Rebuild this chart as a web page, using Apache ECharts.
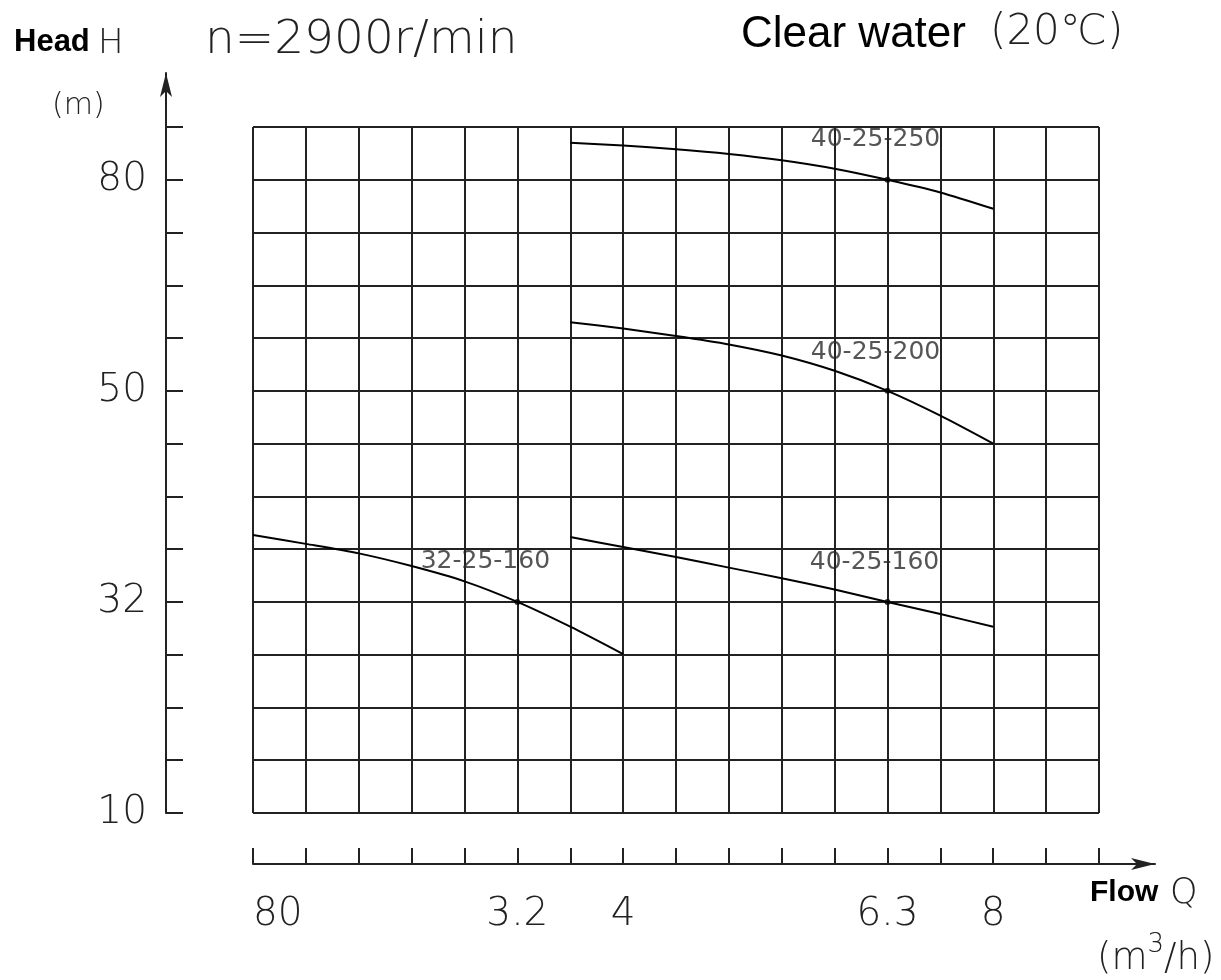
<!DOCTYPE html>
<html><head><meta charset="utf-8">
<script src="https://cdn.jsdelivr.net/npm/echarts@6/dist/echarts.min.js"></script>
<style>html,body{margin:0;padding:0;background:#fff}#c{width:1221px;height:980px}</style>
</head><body><div id="c"></div>
<script>
// ---- data (positions in grid units: columns along flow, rows along head) ----
const flowTickPos = [0, 5, 7, 12, 14];
const flowTickLabels = ['80', '3.2', '4', '6.3', '8'];
const headTickPos = [0, 4, 8, 12];
const headTickLabels = ['10', '32', '50', '80'];
const gridCols = 16;
const gridRows = 13;
const modelNames = ['32-25-160', '40-25-160', '40-25-200', '40-25-250'];
const flowPos_32_25_160 = [0, 1, 2, 3, 4, 5, 6, 7];
const head_32_25_160 = [5.27, 5.10, 4.92, 4.68, 4.39, 4.00, 3.53, 3.01];
const flowPos_40 = [6, 7, 8, 9, 10, 11, 12, 13, 14];
const head_40_25_160 = [5.23, 5.04, 4.85, 4.65, 4.45, 4.235, 4.00, 3.77, 3.53];
const head_40_25_200 = [9.30, 9.18, 9.04, 8.88, 8.67, 8.38, 8.00, 7.53, 7.00];
const head_40_25_250 = [12.70, 12.65, 12.58, 12.49, 12.37, 12.21, 12.00, 11.76, 11.45];
const dutyFlowPos = [5, 12, 12, 12];
const dutyHeadPos = [4, 4, 8, 12];

// ---- layout (pixels) ----
const GL = 253, GR = 1099, GT = 127, GB = 813;
const XAXIS_Y = 864, XARROW_END = 1155;
const YAXIS_X = 166, YARROW_END = 73;
const W = 1221, H = 980;
const labelOffsets = [[-32, -40], [-13, -39], [-12, -38], [-12, -40]];

const thin = 'DejaVu Sans';
const ink = '#222';
const xExtMax = gridCols * (XARROW_END - GL) / (GR - GL);
const yExtMax = gridRows * (GB - YARROW_END) / (GB - GT);
const range = n => Array.from({length: n + 1}, (_, i) => i);

const chart = echarts.init(document.getElementById('c'), null, {renderer: 'canvas'});

function curve(xs, ys) { return xs.map((x, i) => [x, ys[i]]); }
const curveData = [
  curve(flowPos_32_25_160, head_32_25_160),
  curve(flowPos_40, head_40_25_160),
  curve(flowPos_40, head_40_25_200),
  curve(flowPos_40, head_40_25_250)
];

const option = {
  backgroundColor: '#fff',
  animation: false,
  grid: [
    {left: GL, right: W - GR, top: GT, bottom: H - GB},
    {left: GL, right: W - XARROW_END, top: 700, bottom: H - XAXIS_Y},
    {left: YAXIS_X, width: 100, top: YARROW_END, bottom: H - GB}
  ],
  xAxis: [
    {gridIndex: 0, type: 'value', min: 0, max: gridCols, interval: 1,
     axisLine: {show: false}, axisTick: {show: false}, axisLabel: {show: false},
     splitLine: {show: true, lineStyle: {color: ink, width: 2}}},
    {gridIndex: 1, type: 'value', min: 0, max: xExtMax, position: 'bottom',
     axisLine: {show: true, symbol: ['none', 'arrow'], symbolSize: [9, 24], lineStyle: {color: ink, width: 2}},
     axisTick: {show: true, inside: true, length: 16, customValues: range(gridCols), lineStyle: {color: ink, width: 2}},
     axisLabel: {show: true, customValues: flowTickPos, margin: 31, alignMinLabel: 'left',
       formatter: v => flowTickLabels[flowTickPos.indexOf(Math.round(v))] || '',
       fontFamily: thin, fontWeight: 200, fontSize: 39, color: ink},
     splitLine: {show: false}},
    {gridIndex: 2, type: 'value', min: 0, max: 1, show: false}
  ],
  yAxis: [
    {gridIndex: 0, type: 'value', min: 0, max: gridRows, interval: 1,
     axisLine: {show: false}, axisTick: {show: false}, axisLabel: {show: false},
     splitLine: {show: true, lineStyle: {color: ink, width: 2}}},
    {gridIndex: 1, type: 'value', min: 0, max: 1, show: false},
    {gridIndex: 2, type: 'value', min: 0, max: yExtMax, position: 'left',
     axisLine: {show: true, symbol: ['none', 'arrow'], symbolSize: [9, 24], lineStyle: {color: ink, width: 2}},
     axisTick: {show: true, inside: true, length: 17, customValues: range(gridRows), lineStyle: {color: ink, width: 2}},
     axisLabel: {show: true, customValues: headTickPos, margin: 19,
       formatter: v => headTickLabels[headTickPos.indexOf(Math.round(v))] || '',
       fontFamily: thin, fontWeight: 200, fontSize: 39, color: ink},
     splitLine: {show: false}}
  ],
  series: curveData.map((d, i) => ({
    name: modelNames[i], type: 'line', xAxisIndex: 0, yAxisIndex: 0,
    data: d, smooth: 0.25, symbol: 'none', silent: true,
    lineStyle: {color: '#000', width: 2}
  })).concat([{
    name: 'duty', type: 'scatter', xAxisIndex: 0, yAxisIndex: 0,
    symbol: 'circle', symbolSize: 6, itemStyle: {color: '#000'}, z: 5,
    data: dutyFlowPos.map((x, i) => ({
      value: [x, dutyHeadPos[i]],
      label: {show: true, position: 'inside', offset: labelOffsets[i],
        formatter: modelNames[i], fontFamily: thin, fontWeight: 'normal', fontSize: 25, color: '#2a2a2a'}
    }))
  }]),
  graphic: [
    {type: 'text', left: 14, top: 27, style: {text: 'Head', font: 'bold 31px "Liberation Sans", Arial', fill: '#000'}},
    {type: 'text', left: 98, top: 27, style: {text: 'H', font: '200 34px "DejaVu Sans"', fill: ink}},
    {type: 'text', left: 52, top: 91, style: {text: '(m)', font: '200 30px "DejaVu Sans"', fill: ink}},
    {type: 'text', left: 205, top: 17, style: {text: 'n=2900r/min', font: '200 47px "DejaVu Sans"', fill: ink}},
    {type: 'text', left: 741, top: 13, style: {text: 'Clear water', font: '44px "Liberation Sans", Arial', fill: '#000'}},
    {type: 'text', left: 990, top: 12, style: {text: '(20℃)', font: '200 42px "DejaVu Sans"', fill: ink}},
    {type: 'text', left: 1090, top: 878, style: {text: 'Flow', font: 'bold 30px "Liberation Sans", Arial', fill: '#000'}},
    {type: 'text', left: 1170, top: 876, style: {text: 'Q', font: '200 35px "DejaVu Sans"', fill: ink}},
    {type: 'text', left: 1097, top: 932, style: {
      text: '{m|(m}{s|3}{m|/h)}', fill: ink,
      rich: {
        m: {fontFamily: 'DejaVu Sans', fontWeight: 200, fontSize: 37, fill: ink, verticalAlign: 'bottom', lineHeight: 46},
        s: {fontFamily: 'DejaVu Sans', fontWeight: 200, fontSize: 26, fill: ink, verticalAlign: 'top', lineHeight: 26}
      }
    }}
  ]
};
chart.setOption(option);
</script>
</body></html>
